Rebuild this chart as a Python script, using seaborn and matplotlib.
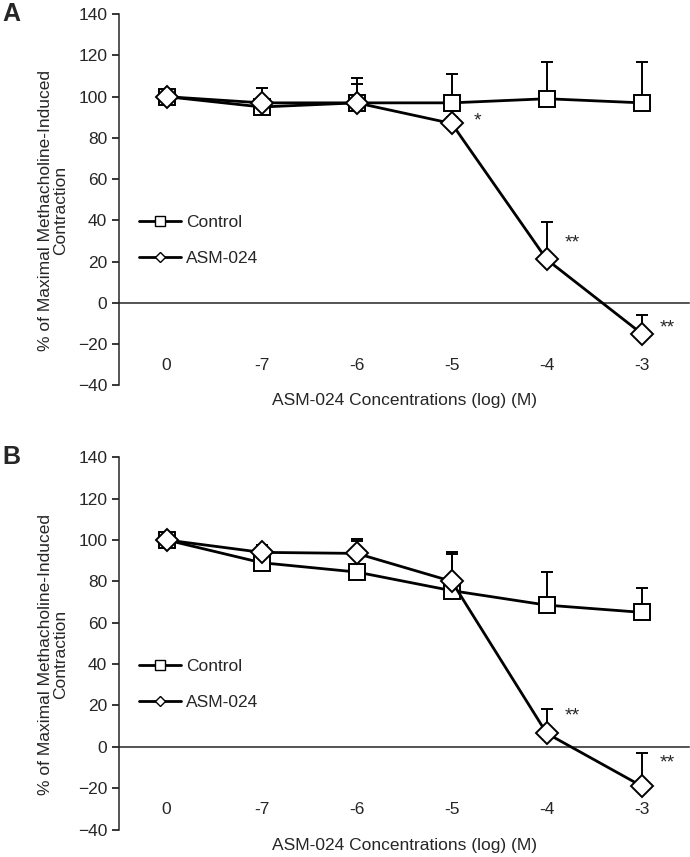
import pandas as pd
import numpy as np
import matplotlib
matplotlib.use("Agg")
import matplotlib.pyplot as plt
import seaborn as sns
from matplotlib.lines import Line2D

# Concentrations (log M) shown as categories
concentrations = ["0", "-7", "-6", "-5", "-4", "-3"]

# Panel A: mean % of maximal contraction and upper SEM
control_a = [100, 95, 97, 97, 99, 97]
control_a_err = [0, 3, 12, 14, 18, 20]
asm_a = [100, 97, 97, 87, 21, -15]
asm_a_err = [0, 7, 9, 3, 18, 9]
stars_a = ["", "", "", "*", "**", "**"]
stars_a_y = [None, None, None, 88, 29, -12]

# Panel B
control_b = [100, 89, 84.5, 75.5, 68.5, 65]
control_b_err = [0, 4, 15, 17.5, 16, 12]
asm_b = [100, 94, 93.5, 80, 6.5, -19]
asm_b_err = [2, 3.7, 7, 14, 12, 16]
stars_b = ["", "", "", "", "**", "**"]
stars_b_y = [None, None, None, None, 15, -8]

sns.set_style("white")
plt.rcParams['font.family'] = ['Liberation Sans', 'DejaVu Sans']

fig = plt.figure(figsize=(6.9, 8.57), dpi=100)
ax_a = fig.add_axes([0.1725, 0.5505, 0.8265, 0.4329])
ax_b = fig.add_axes([0.1725, 0.0320, 0.8265, 0.4345])


def draw_panel(ax, ctrl, ctrl_err, asm, asm_err, stars, stars_y, letter):
    pos = np.arange(len(concentrations))
    df = pd.DataFrame({
        'pos': np.concatenate([pos, pos]),
        'value': ctrl + asm,
        'group': ['Control'] * len(pos) + ['ASM-024'] * len(pos),
    })

    # upper-only error bars, drawn under the markers
    ax.errorbar(pos, ctrl, yerr=[np.zeros(len(pos)), ctrl_err], fmt='none',
                ecolor='black', elinewidth=1.4, capsize=4, capthick=1.4, zorder=2)
    ax.errorbar(pos, asm, yerr=[np.zeros(len(pos)), asm_err], fmt='none',
                ecolor='black', elinewidth=1.4, capsize=4, capthick=1.4, zorder=2)

    sns.lineplot(data=df, x='pos', y='value', style='group',
                 style_order=['Control', 'ASM-024'],
                 markers={'Control': 's', 'ASM-024': 'D'}, dashes=False,
                 color='black', linewidth=2.0, markersize=11.5,
                 markerfacecolor='white', markeredgecolor='black',
                 markeredgewidth=1.4, legend=False, ax=ax, zorder=3)

    for i, s in enumerate(stars):
        if s:
            ax.text(pos[i] + 0.27, stars_y[i], s, fontsize=14,
                    ha='center', va='center')

    ax.set_xlim(-0.5, len(concentrations) - 0.5)
    ax.set_ylim(-40, 140)
    ax.set_yticks(range(-40, 141, 20))

    # x axis drawn through zero, ticks between categories
    ax.spines['bottom'].set_position(('data', 0))
    ax.spines['bottom'].set_linewidth(1.1)
    ax.spines['left'].set_linewidth(1.1)
    ax.spines['top'].set_visible(False)
    ax.spines['right'].set_visible(False)
    ax.set_xticks(pos)
    ax.set_xticklabels(concentrations)
    ax.set_xticks(np.arange(0.5, len(concentrations), 1.0), minor=True)
    ax.tick_params(axis='x', which='major', length=0, pad=40, labelsize=12.5)
    ax.tick_params(axis='x', which='minor', length=5, width=1.1,
                   direction='out', color='black')
    ax.tick_params(axis='y', length=5, width=1.1, direction='out',
                   labelsize=12.5, left=True, color='black')

    ax.set_xlabel('ASM-024 Concentrations (log) (M)', fontsize=12.5)
    ax.xaxis.set_label_coords(0.5, -0.022)
    ax.set_ylabel('% of Maximal Methacholine-Induced\nContraction', fontsize=12.5,
                  linespacing=1.0)
    ax.yaxis.set_label_coords(-0.09, 0.47)

    handles = [
        Line2D([], [], color='black', linewidth=2.0, marker='s', markersize=7,
               markerfacecolor='white', markeredgecolor='black', label='Control'),
        Line2D([], [], color='black', linewidth=2.0, marker='D', markersize=5,
               markerfacecolor='white', markeredgecolor='black', label='ASM-024'),
    ]
    ax.legend(handles=handles, loc='center left', bbox_to_anchor=(0.035, 0.39),
              frameon=False, fontsize=12.5, handlelength=2.4, handletextpad=0.3,
              labelspacing=1.2, borderpad=0, borderaxespad=0)

    ax.text(-0.205, 1.0, letter, transform=ax.transAxes, fontsize=18,
            fontweight='bold', ha='left', va='center')


draw_panel(ax_a, control_a, control_a_err, asm_a, asm_a_err, stars_a, stars_a_y, 'A')
draw_panel(ax_b, control_b, control_b_err, asm_b, asm_b_err, stars_b, stars_b_y, 'B')

fig.savefig('out.png', dpi=100)
